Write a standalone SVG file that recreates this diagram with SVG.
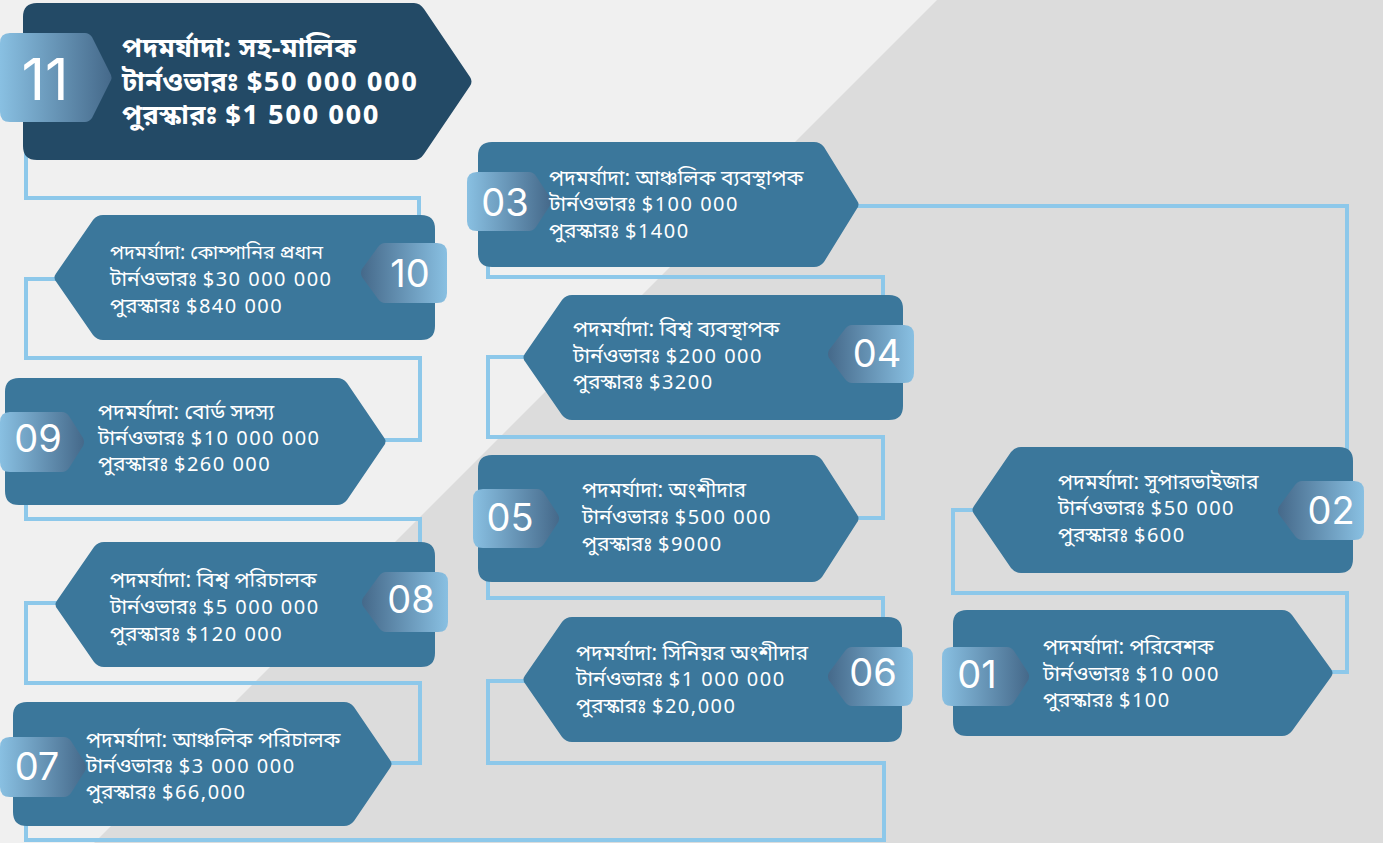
<svg xmlns="http://www.w3.org/2000/svg" width="1383" height="843" viewBox="0 0 1383 843">
<defs>
<linearGradient id="gR" x1="0" y1="0" x2="1" y2="0"><stop offset="0" stop-color="#89c0e2"/><stop offset="1" stop-color="#45698a"/></linearGradient>
<linearGradient id="gL" x1="0" y1="0" x2="1" y2="0"><stop offset="0" stop-color="#45698a"/><stop offset="1" stop-color="#89c0e2"/></linearGradient>
<style>
.node{fill:#3b779b}
.dark{fill:#234a66}
.conn{fill:none;stroke:#8dc8ea;stroke-width:4}
.t{font-family:"Noto Sans Bengali","Noto Sans","Open Sans",sans-serif;font-size:21px;fill:#ffffff}
.t .v{font-size:20px;letter-spacing:1.5px}
.t.n{font-size:19.5px}
.tb{font-family:"Noto Sans Bengali","Noto Sans","Open Sans",sans-serif;font-size:27px;font-weight:bold;fill:#ffffff;letter-spacing:0.4px}
.tb .v{letter-spacing:1.5px}
.num{font-family:"Inter","Open Sans",sans-serif;font-size:38px;fill:#ffffff;text-anchor:middle}
</style>
</defs>
<rect width="1383" height="843" fill="#f0f0f0"/>
<polygon points="937,0 1383,0 1383,843 94,843" fill="#dcdcdc"/>
<g id="connectors">
<path class="conn" d="M26,150 V198 H419 V220"/>
<path class="conn" d="M60,279 H26 V358 H420 V440 H380"/>
<path class="conn" d="M26,500 V519 H420 V545"/>
<path class="conn" d="M60,603 H26 V683 H420 V763 H388"/>
<path class="conn" d="M26,820 V840 H884 V763 H488 V681 H528"/>
<path class="conn" d="M488,578 V598 H883 V620"/>
<path class="conn" d="M855,518 H883 V437 H488 V357 H528"/>
<path class="conn" d="M488,262 V277 H883 V300"/>
<path class="conn" d="M855,206 H1347 V452"/>
<path class="conn" d="M978,510 H953 V593 H1347 V672 H1328"/>
</g>
<g id="node11">
<path class="dark" d="M37,3 H414 Q420,3 424,9 L470,77 Q473,81.5 470,86 L424,154 Q420,160 414,160 H37 Q23,160 23,146 V17 Q23,3 37,3 Z"/>
<path fill="url(#gR)" d="M10,33 H85 Q89,33 92,37 L110,73 Q113,77.5 110,82 L92,118 Q89,122 85,122 H10 Q0,122 0,112 V43 Q0,33 10,33 Z"/>
<text class="num" x="45" y="100" style="font-size:58px">11</text>
<text class="tb" x="122" y="57">পদমর্যাদা: সহ-মালিক</text>
<text class="tb" x="122" y="91">টার্নওভারঃ <tspan class="v">$50 000 000</tspan></text>
<text class="tb" x="122" y="124">পুরস্কারঃ <tspan class="v">$1 500 000</tspan></text>
</g>
<g id="node10">
<path class="node" d="M103,215 H421 Q435,215 435,229 V326 Q435,340 421,340 H103 Q97,340 93,335 L56,281.5 Q53,277.5 56,273.5 L93,220 Q97,215 103,215 Z"/>
<path fill="url(#gL)" d="M385,243 H437 Q447,243 447,253 V293 Q447,303 437,303 H385 Q381,303 378,299 L362,277 Q360,273 362,269 L378,247 Q381,243 385,243 Z"/>
<text class="num" x="410" y="287">10</text>
<text class="t n" x="110" y="259">পদমর্যাদা: কোম্পানির প্রধান</text>
<text class="t" x="110" y="286">টার্নওভারঃ <tspan class="v">$30 000 000</tspan></text>
<text class="t" x="110" y="313">পুরস্কারঃ <tspan class="v">$840 000</tspan></text>
</g>
<g id="node09">
<path class="node" d="M19,378 H337 Q343,378 347,383 L384,437.5 Q387,441.5 384,445.5 L347,500 Q343,505 337,505 H19 Q5,505 5,491 V392 Q5,378 19,378 Z"/>
<path fill="url(#gR)" d="M10,412 H62 Q66,412 69,416 L83,438 Q85,442 83,446 L69,468 Q66,472 62,472 H10 Q0,472 0,462 V422 Q0,412 10,412 Z"/>
<text class="num" x="38" y="452">09</text>
<text class="t" x="98" y="419">পদমর্যাদা: বোর্ড সদস্য</text>
<text class="t" x="98" y="445">টার্নওভারঃ <tspan class="v">$10 000 000</tspan></text>
<text class="t" x="98" y="471">পুরস্কারঃ <tspan class="v">$260 000</tspan></text>
</g>
<g id="node08">
<path class="node" d="M104,542 H421 Q435,542 435,556 V653 Q435,667 421,667 H104 Q98,667 94,662 L57,608.5 Q54,604.5 57,600.5 L94,547 Q98,542 104,542 Z"/>
<path fill="url(#gL)" d="M386,572 H438 Q448,572 448,582 V622 Q448,632 438,632 H386 Q382,632 379,628 L363,606 Q361,602 363,598 L379,576 Q382,572 386,572 Z"/>
<text class="num" x="411" y="613">08</text>
<text class="t" x="110" y="587">পদমর্যাদা: বিশ্ব পরিচালক</text>
<text class="t" x="110" y="614">টার্নওভারঃ <tspan class="v">$5 000 000</tspan></text>
<text class="t" x="110" y="641">পুরস্কারঃ <tspan class="v">$120 000</tspan></text>
</g>
<g id="node07">
<path class="node" d="M27,702 H344 Q350,702 354,707 L390,760 Q393,764 390,768 L354,821 Q350,826 344,826 H27 Q13,826 13,812 V716 Q13,702 27,702 Z"/>
<path fill="url(#gR)" d="M10,737 H64 Q68,737 71,741 L85,763 Q87,767 85,771 L71,793 Q68,797 64,797 H10 Q0,797 0,787 V747 Q0,737 10,737 Z"/>
<text class="num" x="37" y="780">07</text>
<text class="t" x="86" y="747">পদমর্যাদা: আঞ্চলিক পরিচালক</text>
<text class="t" x="86" y="773">টার্নওভারঃ <tspan class="v">$3 000 000</tspan></text>
<text class="t" x="86" y="799">পুরস্কারঃ <tspan class="v">$66,000</tspan></text>
</g>
<g id="node03">
<path class="node" d="M492,142 H814 Q820,142 824,147 L857,200.5 Q860,204.5 857,208.5 L824,262 Q820,267 814,267 H492 Q478,267 478,253 V156 Q478,142 492,142 Z"/>
<path fill="url(#gR)" d="M477,172 H529 Q533,172 536,176 L550,197.5 Q552,201.5 550,205.5 L536,227 Q533,231 529,231 H477 Q467,231 467,221 V182 Q467,172 477,172 Z"/>
<text class="num" x="505" y="216">03</text>
<text class="t" x="549" y="185">পদমর্যাদা: আঞ্চলিক ব্যবস্থাপক</text>
<text class="t" x="549" y="211">টার্নওভারঃ <tspan class="v">$100 000</tspan></text>
<text class="t" x="549" y="238">পুরস্কারঃ <tspan class="v">$1400</tspan></text>
</g>
<g id="node04">
<path class="node" d="M572,295 H889 Q903,295 903,309 V406 Q903,420 889,420 H572 Q566,420 562,415 L525,361.5 Q522,357.5 525,353.5 L562,300 Q566,295 572,295 Z"/>
<path fill="url(#gL)" d="M852,325 H904 Q914,325 914,335 V373 Q914,383 904,383 H852 Q848,383 845,379 L829,358 Q827,354 829,350 L845,329 Q848,325 852,325 Z"/>
<text class="num" x="877" y="367">04</text>
<text class="t" x="573" y="336">পদমর্যাদা: বিশ্ব ব্যবস্থাপক</text>
<text class="t" x="573" y="363">টার্নওভারঃ <tspan class="v">$200 000</tspan></text>
<text class="t" x="573" y="389">পুরস্কারঃ <tspan class="v">$3200</tspan></text>
</g>
<g id="node05">
<path class="node" d="M492,455 H812 Q818,455 822,460 L857,514.5 Q860,518.5 857,522.5 L822,577 Q818,582 812,582 H492 Q478,582 478,568 V469 Q478,455 492,455 Z"/>
<path fill="url(#gR)" d="M483,489 H537 Q541,489 544,493 L558,514.5 Q560,518.5 558,522.5 L544,544 Q541,548 537,548 H483 Q473,548 473,538 V499 Q473,489 483,489 Z"/>
<text class="num" x="510" y="531">05</text>
<text class="t" x="582" y="497">পদমর্যাদা: অংশীদার</text>
<text class="t" x="582" y="524">টার্নওভারঃ <tspan class="v">$500 000</tspan></text>
<text class="t" x="582" y="551">পুরস্কারঃ <tspan class="v">$9000</tspan></text>
</g>
<g id="node06">
<path class="node" d="M572,617 H888 Q902,617 902,631 V728 Q902,742 888,742 H572 Q566,742 562,737 L525,683.5 Q522,679.5 525,675.5 L562,622 Q566,617 572,617 Z"/>
<path fill="url(#gL)" d="M852,647 H903 Q913,647 913,657 V696 Q913,706 903,706 H852 Q848,706 845,702 L829,680.5 Q827,676.5 829,672.5 L845,651 Q848,647 852,647 Z"/>
<text class="num" x="873" y="686">06</text>
<text class="t" x="576" y="660">পদমর্যাদা: সিনিয়র অংশীদার</text>
<text class="t" x="576" y="686">টার্নওভারঃ <tspan class="v">$1 000 000</tspan></text>
<text class="t" x="576" y="713">পুরস্কারঃ <tspan class="v">$20,000</tspan></text>
</g>
<g id="node02">
<path class="node" d="M1021,447 H1339 Q1353,447 1353,461 V559 Q1353,573 1339,573 H1021 Q1015,573 1011,568 L974,514 Q971,510 974,506 L1011,452 Q1015,447 1021,447 Z"/>
<path fill="url(#gL)" d="M1302,481 H1354 Q1364,481 1364,491 V530 Q1364,540 1354,540 H1302 Q1298,540 1295,536 L1279,514.5 Q1277,510.5 1279,506.5 L1295,485 Q1298,481 1302,481 Z"/>
<text class="num" x="1331" y="524">02</text>
<text class="t" x="1058" y="489">পদমর্যাদা: সুপারভাইজার</text>
<text class="t" x="1058" y="515">টার্নওভারঃ <tspan class="v">$50 000</tspan></text>
<text class="t" x="1058" y="542">পুরস্কারঃ <tspan class="v">$600</tspan></text>
</g>
<g id="node01">
<path class="node" d="M967,610 H1282 Q1288,610 1292,615 L1331,669 Q1334,673 1331,677 L1292,731 Q1288,736 1282,736 H967 Q953,736 953,722 V624 Q953,610 967,610 Z"/>
<path fill="url(#gR)" d="M952,647 H1007 Q1011,647 1014,651 L1028,672.5 Q1030,676.5 1028,680.5 L1014,702 Q1011,706 1007,706 H952 Q942,706 942,696 V657 Q942,647 952,647 Z"/>
<text class="num" x="977" y="688">01</text>
<text class="t" x="1043" y="654">পদমর্যাদা: পরিবেশক</text>
<text class="t" x="1043" y="681">টার্নওভারঃ <tspan class="v">$10 000</tspan></text>
<text class="t" x="1043" y="707">পুরস্কারঃ <tspan class="v">$100</tspan></text>
</g>
</svg>
